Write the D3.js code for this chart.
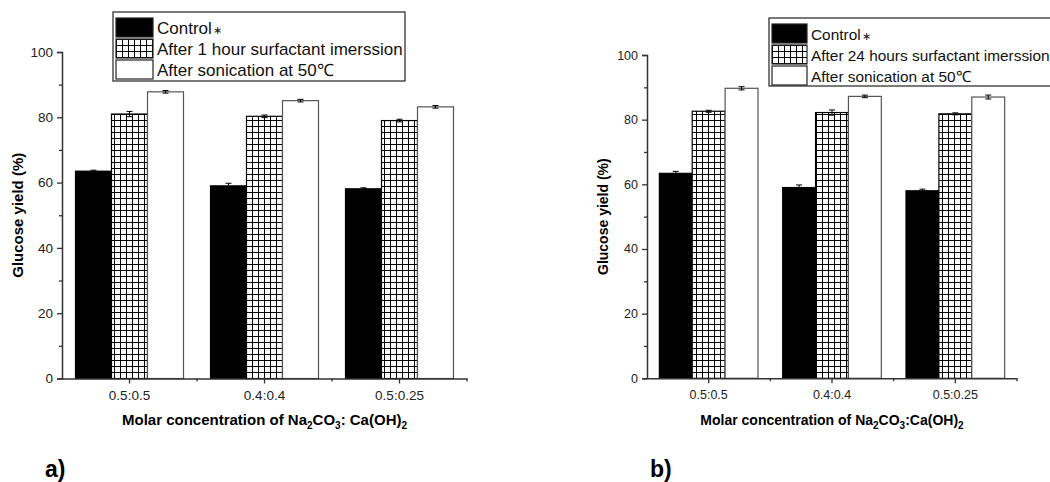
<!DOCTYPE html>
<html>
<head>
<meta charset="utf-8">
<script src="https://cdn.jsdelivr.net/npm/d3@7"></script>
<style>
  body { margin: 0; background: #fff; }
  svg { display: block; font-family: Arial, "Liberation Sans", sans-serif; }
</style>
</head>
<body>
<svg id="chart" width="1050" height="482"></svg>
<script>
// data
const categories = ['0.5:0.5', '0.4:0.4', '0.5:0.25'];
const yTicks = [0, 20, 40, 60, 80, 100];
const yMinorTicks = [10, 30, 50, 70, 90];

const controlA = [63.5, 59.0, 58.1];
const surfactantA = [81.0, 80.3, 79.0];
const sonicationA = [87.8, 85.1, 83.2];
const controlErrA = [0.3, 0.8, 0.3];
const surfactantErrA = [0.8, 0.4, 0.4];
const sonicationErrA = [0.4, 0.4, 0.4];

const controlB = [63.4, 59.0, 58.0];
const surfactantB = [82.6, 82.2, 81.8];
const sonicationB = [89.7, 87.2, 87.0];
const controlErrB = [0.6, 0.8, 0.5];
const surfactantErrB = [0.3, 0.8, 0.3];
const sonicationErrB = [0.5, 0.4, 0.6];

const legendA = ['Control', 'After 1 hour surfactant imerssion', 'After sonication at 50\u2103'];
const legendB = ['Control', 'After 24 hours surfactant imerssion', 'After sonication at 50\u2103'];

const svg = d3.select('#chart');

// cross hatch pattern for the surfactant bars
const defs = svg.append('defs');
const pat = defs.append('pattern')
    .attr('id', 'grid')
    .attr('patternUnits', 'userSpaceOnUse')
    .attr('width', 6).attr('height', 6);
pat.append('rect').attr('width', 6).attr('height', 6).attr('fill', '#fff');
pat.append('path')
    .attr('d', 'M0.5,0V6M0,0.5H6')
    .attr('stroke', '#000').attr('stroke-width', 1);

const fills = ['#000', 'url(#grid)', '#fff'];
const strokes = ['#000', '#000', '#555'];

function drawPanel(cfg)
{
    const g = svg.append('g');

    const x0 = d3.scaleBand()
        .domain(categories)
        .range([cfg.left, cfg.right])
        .paddingInner(0.2)
        .paddingOuter(0.1);

    const x1 = d3.scaleBand()
        .domain([0, 1, 2])
        .range([0, x0.bandwidth()]);

    const y = d3.scaleLinear()
        .domain([0, 100])
        .range([cfg.bottom, cfg.top]);

    const rows = [];
    categories.forEach(function(c, i){
        cfg.series.forEach(function(s, k){
            rows.push({cat: c, k: k, v: s[i], e: cfg.errs[k][i]});
        });
    });

    g.selectAll('rect.bar')
        .data(rows)
        .enter()
        .append('rect')
        .attr('class', 'bar')
        .attr('x', d => x0(d.cat) + x1(d.k))
        .attr('width', x1.bandwidth())
        .attr('y', d => y(d.v))
        .attr('height', d => y(0) - y(d.v))
        .attr('fill', d => fills[d.k])
        .attr('stroke', d => strokes[d.k])
        .attr('stroke-width', 1.2);

    // error bars
    const eb = g.selectAll('g.err')
        .data(rows)
        .enter()
        .append('g')
        .attr('class', 'err')
        .attr('stroke', '#000')
        .attr('stroke-width', 1);
    const cx = d => x0(d.cat) + x1(d.k) + x1.bandwidth() / 2;
    eb.append('line')
        .attr('x1', cx).attr('x2', cx)
        .attr('y1', d => y(d.v - d.e)).attr('y2', d => y(d.v + d.e));
    eb.append('line')
        .attr('x1', d => cx(d) - 3).attr('x2', d => cx(d) + 3)
        .attr('y1', d => y(d.v + d.e)).attr('y2', d => y(d.v + d.e));
    eb.append('line')
        .attr('x1', d => cx(d) - 3).attr('x2', d => cx(d) + 3)
        .attr('y1', d => y(d.v - d.e)).attr('y2', d => y(d.v - d.e));

    // y axis
    const yAxis = g.append('g')
        .attr('transform', 'translate(' + cfg.left + ',0)')
        .call(d3.axisLeft(y).tickValues(yTicks).tickSize(5).tickPadding(4));
    g.append('g')
        .attr('transform', 'translate(' + cfg.left + ',0)')
        .call(d3.axisLeft(y).tickValues(yMinorTicks).tickSize(3).tickFormat(''))
        .select('.domain').remove();

    // x axis, major ticks at the groups, minor ticks between them
    const xAxis = g.append('g')
        .attr('transform', 'translate(0,' + cfg.bottom + ')')
        .call(d3.axisBottom(x0).tickSize(5).tickPadding(7).tickSizeOuter(0));
    g.append('g')
        .selectAll('line')
        .data(categories)
        .enter()
        .append('line')
        .attr('x1', d => x0(d) - x0.step() * 0.1 + x0.step())
        .attr('x2', d => x0(d) - x0.step() * 0.1 + x0.step())
        .attr('y1', cfg.bottom)
        .attr('y2', cfg.bottom + 3)
        .attr('stroke', '#333')
        .attr('stroke-width', 1.3);

    [yAxis, xAxis].forEach(function(ax){
        ax.select('.domain').attr('stroke', '#333').attr('stroke-width', 1.5);
        ax.selectAll('.tick text')
            .attr('font-size', cfg.tickFont)
            .attr('fill', '#222')
            .attr('font-family', 'Arial, "Liberation Sans", sans-serif');
    });
    g.selectAll('.tick line').attr('stroke', '#333').attr('stroke-width', 1.3);

    // y title
    g.append('text')
        .attr('transform', 'translate(' + cfg.yTitleX + ',' + ((cfg.top + cfg.bottom) / 2) + ') rotate(-90)')
        .attr('text-anchor', 'middle')
        .attr('font-size', cfg.titleFont)
        .attr('font-weight', 'bold')
        .text('Glucose yield (%)');

    // x title with subscripts
    const sub = Math.round(cfg.titleFont * 0.68);
    const xt = g.append('text')
        .attr('x', (cfg.left + cfg.right) / 2)
        .attr('y', 425)
        .attr('text-anchor', 'middle')
        .attr('font-size', cfg.titleFont)
        .attr('font-weight', 'bold');
    xt.append('tspan').text('Molar concentration of Na');
    xt.append('tspan').attr('font-size', sub).attr('dy', 4).text('2');
    xt.append('tspan').attr('dy', -4).text('CO');
    xt.append('tspan').attr('font-size', sub).attr('dy', 4).text('3');
    xt.append('tspan').attr('dy', -4).text(cfg.sep + 'Ca(OH)');
    xt.append('tspan').attr('font-size', sub).attr('dy', 4).text('2');

    // legend
    const lg = g.append('g');
    lg.append('rect')
        .attr('x', cfg.legend.x).attr('y', cfg.legend.y)
        .attr('width', cfg.legend.w).attr('height', cfg.legend.h)
        .attr('fill', '#fff').attr('stroke', '#222').attr('stroke-width', 1.2);
    const item = lg.selectAll('g.item')
        .data(cfg.labels)
        .enter()
        .append('g')
        .attr('class', 'item')
        .attr('transform', (d, i) => 'translate(' + (cfg.legend.x + 3) + ',' + (cfg.legend.y + 6 + i * 21) + ')');
    item.append('rect')
        .attr('width', cfg.legend.sw).attr('height', 19)
        .attr('fill', (d, i) => fills[i])
        .attr('stroke', '#222').attr('stroke-width', 1.2);
    const lt = item.append('text')
        .attr('x', cfg.legend.sw + 4)
        .attr('y', 16)
        .attr('font-size', cfg.legend.font)
        .attr('fill', '#111')
        .text(d => d);
    lt.filter((d, i) => i === 0)
        .append('tspan')
        .attr('font-size', 11)
        .attr('dx', 1)
        .text('\u2217');

    // panel letter
    g.append('text')
        .attr('x', cfg.letterX)
        .attr('y', 477)
        .attr('font-size', 23)
        .attr('font-weight', 'bold')
        .text(cfg.letter);
}

drawPanel({
    left: 62, right: 467, top: 52, bottom: 378.5,
    series: [controlA, surfactantA, sonicationA],
    errs: [controlErrA, surfactantErrA, sonicationErrA],
    labels: legendA, sep: ': ', yTitleX: 23, letter: 'a)', letterX: 45,
    tickFont: 13.5, titleFont: 15,
    legend: {x: 113, y: 12, w: 292, h: 69, sw: 37, font: 17}
});

drawPanel({
    left: 647, right: 1017, top: 55, bottom: 378.3,
    series: [controlB, surfactantB, sonicationB],
    errs: [controlErrB, surfactantErrB, sonicationErrB],
    labels: legendB, sep: ':', yTitleX: 608, letter: 'b)', letterX: 650,
    tickFont: 12.5, titleFont: 14,
    legend: {x: 769, y: 18, w: 300, h: 68, sw: 35, font: 15.4}
});
</script>
</body>
</html>
